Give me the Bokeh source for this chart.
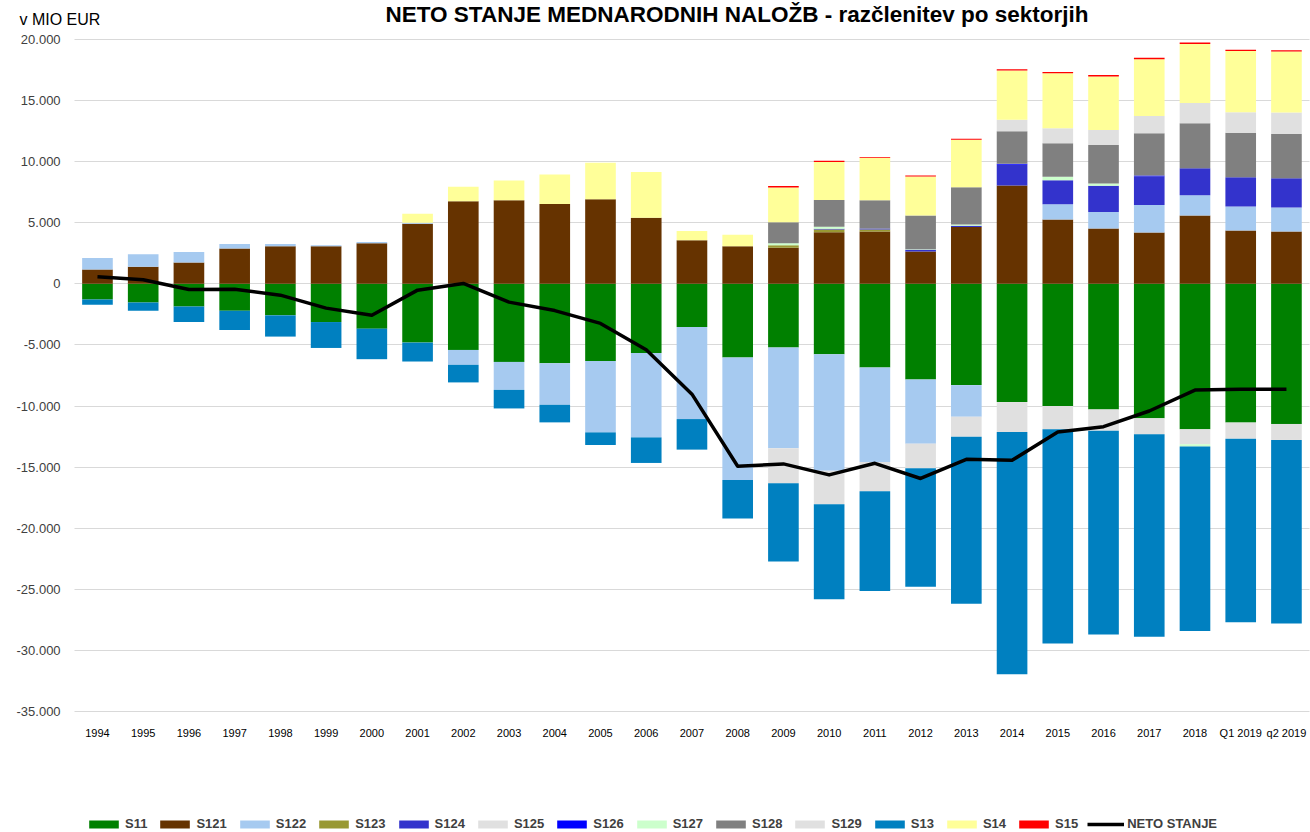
from bokeh.plotting import figure
from bokeh.models import (Range1d, ColumnDataSource, Legend, LegendItem, Label, FixedTicker)
from bokeh.embed import file_html
from bokeh.resources import INLINE

# ---------------- data (mio EUR) ----------------
categories = ["1994", "1995", "1996", "1997", "1998", "1999", "2000", "2001", "2002",
              "2003", "2004", "2005", "2006", "2007", "2008", "2009", "2010", "2011",
              "2012", "2013", "2014", "2015", "2016", "2017", "2018", "Q1 2019", "q2 2019"]

S11 = [-1280, -1525, -1850, -2200, -2580, -3130, -3670, -4810, -5410, -6390, -6500, -6310,
       -5660, -3540, -6040, -5220, -5770, -6850, -7830, -8290, -9680, -10000, -10280,
       -11010, -11910, -11360, -11470]
S121 = [1170, 1390, 1740, 2880, 3070, 3070, 3320, 4920, 6750, 6830, 6530, 6910, 5410,
        3560, 3070, 2940, 4220, 4290, 2645, 4640, 8045, 5260, 4530, 4200, 5590, 4360, 4280]
S122 = [950, 1030, 870, 380, 190, 80, 110, 80, -1220, -2290, -3400, -5850, -6910, -7530,
        -10010, -8240, -9520, -7730, -5250, -2590, 0, 1250, 1340, 2240, 1660, 1960, 1960]
S123 = [0, 0, 0, 0, 0, 0, 0, 0, 0, 0, 0, 0, 0, 0, 0, 220, 220, 160, 0, 0, 0, 0, 0, 0, 0, 0, 0]
S124 = [0, 0, 0, 0, 0, 0, 0, 0, 0, 0, 0, 0, 0, 0, 0, 0, 60, 80, 135, 110, 1690, 1960,
        2150, 2370, 2210, 2400, 2400]
S125 = [0, 0, 0, 0, 0, 0, 0, 0, 0, 0, 0, 0, 0, 0, 0, -2860, -2750, -2390, -2010, -1630,
        -2450, -1910, -1740, -1310, -1220, -1310, -1310]
S126 = [0, 0, 0, 0, 0, 0, 0, 0, 0, 0, 0, 0, 0, 0, 0, 0, 0, 0, 0, 0, 80, 0, 0, 50, 0, 0, 0]
S127 = [0, 0, 0, 0, 0, 0, 0, 0, 0, 0, 0, 0, 0, 0, 0, 160, 160, 0, 55, 110, 0, 300, 190,
        0, -190, 0, 0]
S128 = [0, 0, 0, 0, 0, 0, 0, 0, 0, 0, 0, 0, 0, 0, 0, 1710, 2200, 2310, 2750, 3050, 2670,
        2730, 3140, 3460, 3680, 3650, 3610]
S129 = [0, 0, 0, 0, 0, 0, 0, 0, 0, 0, 0, 0, 0, 0, 0, 0, 0, 0, 0, 0, 930, 1230, 1230,
        1420, 1660, 1660, 1770]
S13 = [-435, -680, -1280, -1580, -1740, -2120, -2500, -1550, -1440, -1520, -1440, -1030,
       -2090, -2500, -3150, -6410, -7780, -8160, -9710, -13680, -19830, -17520, -16680,
       -16560, -15100, -15020, -15010]
S14 = [0, 0, 0, 0, 0, 0, 0, 730, 1200, 1630, 2420, 2990, 3730, 760, 950, 2860, 3100, 3480,
       3190, 3870, 4040, 4500, 4390, 4640, 4830, 5020, 4990]
S15 = [0, 0, 0, 0, 0, 0, 0, 0, 0, 0, 0, 0, 0, 0, 0, 110, 110, 50, 80, 80, 110, 110, 110,
       110, 110, 110, 110]
neto_stanje = [570, 330, -460, -440, -930, -1990, -2580, -520, 30, -1500, -2190, -3240,
               -5390, -9030, -14930, -14740, -15640, -14690, -15930, -14360, -14440,
               -12130, -11690, -10410, -8700, -8620, -8620]

series_names = ["S11", "S121", "S122", "S123", "S124", "S125", "S126", "S127", "S128",
                "S129", "S13", "S14", "S15"]
series_values = [S11, S121, S122, S123, S124, S125, S126, S127, S128, S129, S13, S14, S15]

y_ticks = [-35000, -30000, -25000, -20000, -15000, -10000, -5000, 0, 5000, 10000, 15000, 20000]
y_tick_labels = ["-35.000", "-30.000", "-25.000", "-20.000", "-15.000", "-10.000", "-5.000",
                 "0", "5.000", "10.000", "15.000", "20.000"]

title_text = "NETO STANJE MEDNARODNIH NALOŽB - razčlenitev po sektorjih"
unit_text = "v MIO EUR"

# ---------------- styles / layout ----------------
colors = ["#008000", "#663300", "#A6CAF0", "#999933", "#3333CC", "#E0E0E0", "#0000FF",
          "#CCFFCC", "#808080", "#E0E0E0", "#0080C0", "#FFFF99", "#FF0000"]
FONT = "Liberation Sans"
W, H = 1310, 832
PX_X = 45.73            # pixels per category
PLOT_LEFT_PX = 74.1     # left edge of the category area
Y_TOP_PX, Y_BOT_PX = 38.9, 711.0   # pixel rows of 20000 and -35000
y_per_px = (20000 - (-35000)) / (Y_BOT_PX - Y_TOP_PX)

n = len(categories)
xpos = [i + 0.5 for i in range(n)]          # category slots of the axis
x0 = -PLOT_LEFT_PX / PX_X
x1 = x0 + W / PX_X
y1 = 20000 + Y_TOP_PX * y_per_px
y0 = -35000 - (H - Y_BOT_PX) * y_per_px

p = figure(x_range=Range1d(x0, x1), y_range=Range1d(y0, y1),
           width=W, height=H, output_backend="svg", toolbar_location=None,
           min_border=0, min_border_left=0, min_border_right=0,
           min_border_top=0, min_border_bottom=0)
p.outline_line_color = None
p.background_fill_color = "white"
p.border_fill_color = "white"

# stacked bars: positives upwards, negatives downwards, in series order
pos = [0.0] * n
neg = [0.0] * n
bar_renderers = []
for name, vals, col in zip(series_names, series_values, colors):
    bottoms, tops = [], []
    for i, v in enumerate(vals):
        if v >= 0:
            bottoms.append(pos[i])
            pos[i] += v
            tops.append(pos[i])
        else:
            tops.append(neg[i])
            neg[i] += v
            bottoms.append(neg[i])
    src = ColumnDataSource(dict(x=xpos, cat=categories, top=tops, bottom=bottoms))
    r = p.vbar(x="x", top="top", bottom="bottom", width=0.67, source=src,
               fill_color=col, line_color=None)
    bar_renderers.append(r)

line_r = p.line(x=xpos, y=neto_stanje, line_color="black", line_width=3.5,
                line_join="round")

# grid
p.xgrid.visible = False
p.ygrid.ticker = FixedTicker(ticks=y_ticks)
p.ygrid.grid_line_color = "#D9D9D9"
p.ygrid.grid_line_width = 1
try:
    p.ygrid.cross_bounds = (0, n)
except Exception:
    pass

# y axis (fixed at the left edge of the category area)
p.yaxis.fixed_location = 0
p.yaxis.ticker = FixedTicker(ticks=y_ticks)
p.yaxis.major_label_overrides = {t: l for t, l in zip(y_ticks, y_tick_labels)}
p.yaxis.axis_line_color = None
p.yaxis.major_tick_line_color = None
p.yaxis.minor_tick_line_color = None
p.yaxis.major_tick_out = 0
p.yaxis.major_tick_in = 0
p.yaxis.major_label_standoff = 14
p.yaxis.major_label_text_font = FONT
p.yaxis.major_label_text_font_size = "13px"
p.yaxis.major_label_text_color = "#404040"

# x axis (categories, fixed at the bottom of the value range)
p.xaxis.fixed_location = -35000
p.xaxis.ticker = FixedTicker(ticks=xpos)
p.xaxis.major_label_overrides = {x: c for x, c in zip(xpos, categories)}
p.xaxis.axis_line_color = None
p.xaxis.major_tick_line_color = None
p.xaxis.minor_tick_line_color = None
p.xaxis.major_tick_out = 0
p.xaxis.major_tick_in = 0
p.xaxis.major_label_standoff = 15
p.xaxis.major_label_text_font = FONT
p.xaxis.major_label_text_font_size = "11px"
p.xaxis.major_label_text_color = "#000000"

# title and unit label
p.add_layout(Label(x=x0 + 385 / PX_X, y=y1 - 14 * y_per_px, text=title_text,
                   text_font=FONT, text_font_size="22.5px", text_font_style="bold",
                   text_color="black", text_align="left", text_baseline="alphabetic"))
p.add_layout(Label(x=x0 + 19 / PX_X, y=y1 - 19 * y_per_px, text=unit_text,
                   text_font=FONT, text_font_size="16px", text_color="black",
                   text_align="left", text_baseline="alphabetic"))

# legend at the bottom
items = [LegendItem(label=nm, renderers=[r]) for nm, r in zip(series_names, bar_renderers)]
items.append(LegendItem(label="NETO STANJE", renderers=[line_r]))
legend = Legend(items=items, orientation="horizontal", location=(85, 1),
                glyph_width=37, glyph_height=10, label_standoff=3, spacing=9,
                padding=0, margin=0, label_height=14,
                border_line_color=None, background_fill_alpha=0,
                label_text_font=FONT, label_text_font_size="13px",
                label_text_font_style="bold", label_text_color="#404040")
p.add_layout(legend)

open("out.html", "w").write(file_html(p, INLINE))
